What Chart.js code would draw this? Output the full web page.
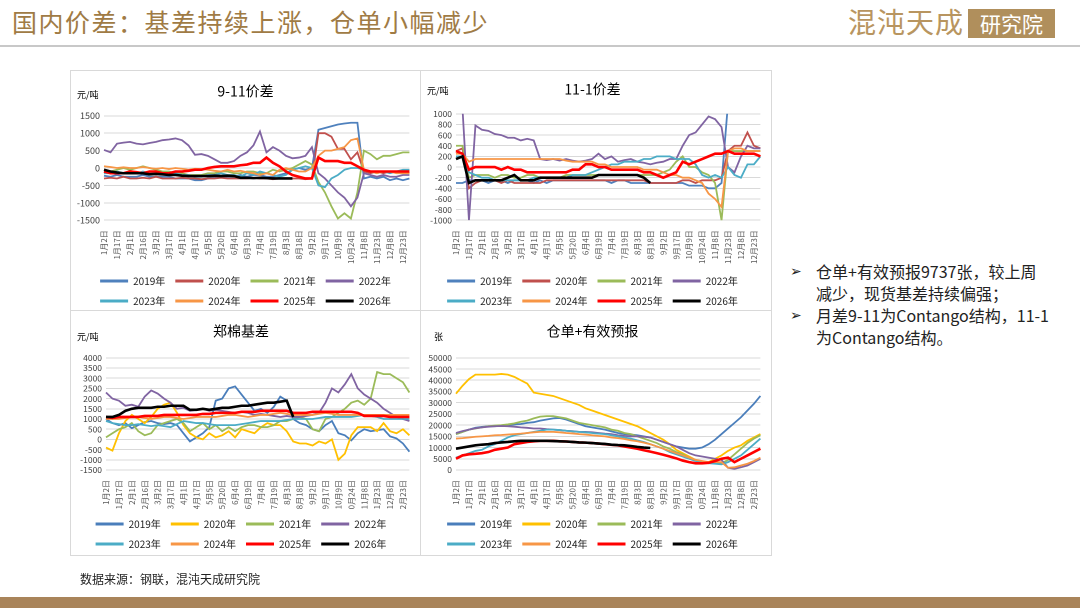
<!DOCTYPE html>
<html><head><meta charset="utf-8">
<script src="https://cdn.jsdelivr.net/npm/chart.js@4.4.1/dist/chart.umd.min.js"></script>
<style>
html,body{margin:0;padding:0;background:#fff;}
body{width:1080px;height:608px;position:relative;overflow:hidden;font-family:"Noto Sans CJK SC","Noto Sans",sans-serif;}
#hdr{position:absolute;left:12px;top:3px;font-size:25px;color:#A07B45;letter-spacing:1.5px;white-space:nowrap;}
#hline{position:absolute;left:0;top:45px;width:1080px;height:2px;background:#C8C8C8;}
#logo{position:absolute;left:848px;top:1px;font-size:28px;color:#B89560;white-space:nowrap;letter-spacing:1px;}
#logobox{position:absolute;left:968px;top:9px;width:87px;height:29px;background:#B08F5C;color:#fff;font-size:21px;text-align:center;line-height:29px;}
.panel{position:absolute;border:1px solid #D9D9D9;box-sizing:border-box;}
.panel canvas{position:absolute;left:0;top:0;}
.unit{position:absolute;font-size:9px;color:#000;white-space:nowrap;}
#notes{position:absolute;left:790px;top:260px;font-size:16px;line-height:22px;color:#222;}
#notes .b{position:relative;padding-left:26px;white-space:nowrap;}
#notes .b span.m{position:absolute;left:0;top:0;font-family:"DejaVu Sans";font-size:14px;}
#src{position:absolute;left:80px;top:570px;font-size:12px;color:#222;}
#foot{position:absolute;left:0;top:597px;width:1080px;height:11px;background:#A9845A;}
</style>
</head>
<body>
<div id="hdr">国内价差：基差持续上涨，仓单小幅减少</div>
<div id="logo">混沌天成</div>
<div id="logobox">研究院</div>
<div id="hline"></div>

<div class="panel" style="left:70px;top:70px;width:351px;height:241px;"><canvas id="c1" width="350" height="240"></canvas></div>
<div class="panel" style="left:420px;top:70px;width:352px;height:241px;"><canvas id="c2" width="351" height="240"></canvas></div>
<div class="panel" style="left:70px;top:310px;width:351px;height:246px;"><canvas id="c3" width="350" height="245"></canvas></div>
<div class="panel" style="left:420px;top:310px;width:352px;height:246px;"><canvas id="c4" width="351" height="245"></canvas></div>

<div class="unit" style="left:77px;top:88px;">元/吨</div>
<div class="unit" style="left:427px;top:84px;">元/吨</div>
<div class="unit" style="left:77px;top:330px;">元/吨</div>
<div class="unit" style="left:434px;top:330px;">张</div>

<div id="notes">
<div class="b"><span class="m">➢</span>仓单+有效预报9737张，较上周<br>减少，现货基差持续偏强；</div>
<div class="b"><span class="m">➢</span>月差9-11为Contango结构，11-1<br>为Contango结构。</div>
</div>
<div id="src">数据来源：钢联，混沌天成研究院</div>
<div id="foot"></div>

<script>
const FONT = '"Noto Sans CJK SC","Noto Sans",sans-serif';
const years = ['2019年','2020年','2021年','2022年','2023年','2024年','2025年','2026年'];
const dates = ['1月2日','1月9日','1月17日','1月24日','2月1日','2月8日','2月16日','2月23日','3月2日','3月9日','3月17日','3月24日',
'4月1日','4月9日','4月17日','4月25日','5月5日','5月12日','5月20日','5月27日','6月4日','6月11日','6月19日','6月26日',
'7月4日','7月11日','7月19日','7月26日','8月3日','8月10日','8月18日','8月25日','9月2日','9月9日','9月17日','9月30日',
'10月9日','10月16日','10月24日','10月31日','11月8日','11月15日','11月23日','11月30日','12月8日','12月15日','12月23日','12月30日'];
const N = null;

// 9-11价差 (元/吨)
const s911_2019 = [-220,-250,-200,-250,-250,-250,-200,-250,-250,-250,-250,-300,-300,-300,-350,-350,-300,-250,-250,-250,-250,-200,-250,-200,-200,-250,-250,-200,-150,-50,0,-50,0,1100,1150,1200,1250,1280,1300,1300,-300,-250,-300,-250,-350,-300,-350,-300];
const s911_2020 = [-300,-280,-300,-250,-300,-300,-280,-300,-250,-300,-300,-300,-280,-300,-300,-320,-300,-300,-280,-300,-300,-300,-300,-280,-300,-300,-320,-300,-300,-300,-300,-320,-300,1000,1000,900,550,550,250,450,-100,-150,-100,-150,-100,-100,-100,-150];
const s911_2021 = [-150,-100,-50,0,-50,0,50,0,-50,-100,-100,-150,-150,-200,-200,-200,-150,-150,-100,-100,-150,-150,-100,-100,-150,-150,-50,-100,-50,0,100,200,100,-400,-700,-1100,-1450,-1300,-1450,-700,500,400,250,350,350,400,450,450];
const s911_2022 = [520,450,700,730,750,700,680,720,750,800,820,850,800,650,380,400,350,250,150,150,200,350,450,650,1050,450,600,500,350,280,300,350,600,-150,-300,-500,-700,-850,-1100,-850,-150,-200,-250,-200,-250,-250,-200,-200];
const s911_2023 = [-150,-150,-100,-150,-150,-150,-100,-150,-150,-150,-150,-150,-200,-200,-250,-250,-200,-200,-150,-200,-200,-250,-150,-200,-100,-150,-200,-250,-200,-50,0,50,0,-500,-550,-300,-200,-50,0,0,-50,-100,-150,-100,-150,-100,-50,-50];
const s911_2024 = [50,30,0,20,0,0,30,0,-20,0,-30,0,-20,-50,-20,-30,-50,-80,-100,-50,-100,-80,-120,-150,-200,-150,-200,-50,0,-50,-100,-100,0,350,500,500,550,600,800,850,-50,-100,-150,-100,-100,-150,-150,-150];
const s911_2025 = [-100,-150,-150,-150,-100,-120,-150,-100,-100,-150,-150,-100,-100,-80,-50,-50,0,30,50,50,50,80,100,150,150,300,150,50,-100,-200,-250,-300,-300,300,200,200,200,150,150,50,-50,-100,-100,-100,-100,-100,-100,-100];
const s911_2026 = [-50,-100,-130,-150,-150,-150,-150,-180,-170,-180,-200,-200,-220,-230,-230,-230,-230,-220,-230,-220,-230,-280,-280,-290,-280,-290,-300,-300,-300,-300,N,N,N,N,N,N,N,N,N,N,N,N,N,N,N,N,N,N];

// 11-1价差 (元/吨)
const s111_2019 = [-300,-300,-250,-250,-250,-300,-250,-250,-300,-250,-250,-250,-300,-250,-300,-250,-250,-250,-250,-250,-250,-250,-250,-250,-300,-250,-250,-300,-300,-300,-300,-300,-300,-300,-300,-300,-350,-350,-350,-400,-400,-300,1200,1200,1200,1200,1200,1200];
const s111_2020 = [300,350,-400,-300,-250,-250,-250,-300,-250,-300,-300,-300,-300,-300,-250,-250,-250,-250,-250,-250,-250,-250,-250,-250,-250,-250,-250,-250,-250,-250,-300,-300,-300,-300,-300,-250,-250,-300,-250,-250,-250,-200,300,400,400,650,400,350];
const s111_2021 = [400,400,-200,-150,-150,-150,-200,-150,-150,-200,-200,-150,-150,-200,-200,-200,-200,-150,-150,-150,-150,-150,-150,-150,-150,-150,-150,-150,-150,-150,-150,-150,-100,-50,100,200,0,0,-100,-150,-300,-1000,300,300,300,300,300,300];
const s111_2022 = [1100,1100,-1000,780,700,680,620,600,550,550,500,530,500,150,130,150,120,150,120,100,120,150,250,150,200,100,130,150,100,80,50,80,100,150,150,400,600,650,800,950,900,750,0,-100,200,400,350,350];
const s111_2023 = [200,200,-100,-150,-200,-200,-250,-250,-250,-250,-250,-250,-200,-200,-200,-200,-200,-200,-150,-150,-150,-100,-50,0,50,50,100,100,100,150,150,200,200,200,150,150,150,50,-150,-200,-150,-200,0,-150,-200,50,50,200];
const s111_2024 = [250,250,100,150,150,150,150,150,150,150,150,150,150,150,150,150,150,120,100,100,100,100,50,50,0,0,0,0,0,-50,-50,-50,-100,-150,-150,-200,-200,-250,-300,-500,-600,-750,300,350,350,300,300,300];
const s111_2025 = [300,250,-50,0,0,0,0,-50,0,-50,-50,-100,-100,-100,-100,-100,-100,-100,-50,-50,50,50,0,0,-50,-50,-50,-50,-50,-100,-100,-150,-200,-150,-100,100,50,100,150,200,250,250,300,250,250,250,250,200];
const s111_2026 = [150,200,-300,-250,-250,-250,-250,-250,-200,-150,-250,-250,-250,-200,-200,-200,-200,-200,-200,-200,-200,-200,-150,-150,-150,-150,-150,-150,-150,-200,-300,N,N,N,N,N,N,N,N,N,N,N,N,N,N,N,N,N];

// 郑棉基差 (元/吨)
const basis_2019 = [1000,800,700,800,550,700,850,900,800,750,800,700,300,-100,100,300,600,1900,2000,2500,2600,2200,1800,1400,1500,1300,1600,2100,1900,1000,800,700,500,400,700,900,300,200,-50,300,500,400,450,500,150,50,-200,-600];
const basis_2020 = [-400,-550,300,900,1200,1000,800,1100,1500,1700,1800,1300,700,300,100,0,300,100,200,400,100,500,400,300,600,800,700,700,400,-100,-200,-200,-300,-100,-200,0,-1000,-700,200,600,600,600,400,800,400,300,500,200];
const basis_2021 = [100,300,500,600,800,400,200,300,700,800,900,1000,800,400,600,800,500,700,400,600,400,600,700,700,600,600,700,900,900,1000,1100,1000,500,400,1000,1100,1300,1500,1800,1900,1700,2000,3300,3200,3200,3000,2800,2300];
const basis_2022 = [2300,2000,1900,1650,1700,1600,2100,2400,2250,2000,1800,1500,1550,1400,1450,1500,1400,1450,1400,1350,1300,1350,1300,1200,1250,1200,1150,1100,1150,1100,1100,1150,1200,1300,1800,2500,2300,2700,3200,2500,2200,2000,1800,1500,1300,1100,1000,900];
const basis_2023 = [900,800,750,700,700,750,700,650,700,650,600,750,900,850,800,800,750,700,700,700,700,750,800,850,900,900,900,900,950,1000,1000,1000,1000,1050,1100,1100,1100,1100,1100,1150,1200,1150,1100,1000,1000,1000,1000,1000];
const basis_2024 = [1000,1000,1000,1050,1100,1100,1050,1000,1050,1100,1100,1050,1000,1050,1100,1100,1100,1100,1150,1200,1200,1150,1100,1150,1200,1200,1250,1300,1250,1200,1200,1200,1200,1250,1300,1250,1200,1200,1200,1200,1200,1200,1200,1200,1200,1200,1200,1200];
const basis_2025 = [1100,1050,1100,1100,1100,1100,1150,1150,1150,1200,1200,1200,1200,1200,1200,1250,1250,1300,1300,1300,1300,1350,1350,1350,1400,1400,1400,1400,1400,1300,1300,1300,1350,1350,1350,1350,1350,1350,1350,1300,1150,1150,1150,1150,1100,1100,1100,1100];
const basis_2026 = [1100,1100,1200,1400,1500,1550,1550,1550,1600,1600,1650,1650,1650,1450,1450,1500,1450,1500,1550,1550,1600,1650,1650,1700,1750,1800,1800,1850,1900,1100,N,N,N,N,N,N,N,N,N,N,N,N,N,N,N,N,N,N];

// 仓单+有效预报 (张)
const wr_2019 = [16000,17000,18000,18800,19200,19500,19500,19800,20000,20300,20500,21000,21300,22000,22500,23000,23200,22500,21500,20500,19500,19000,18500,18000,17200,16500,16000,15800,15500,15000,14500,13500,12500,11500,10500,10000,9500,9500,10000,11500,13500,16000,18500,21000,23500,26500,29500,33000];
const wr_2020 = [34000,37500,40500,42500,42500,42500,42500,42800,42500,41500,40000,38500,34500,34000,33500,33000,32000,31000,30000,29000,27500,26500,25500,24500,23500,22500,21500,20500,19500,18000,16500,15000,13500,11500,9000,7500,6000,4500,3500,3500,5000,6500,8500,10000,11000,13000,14500,16000];
const wr_2021 = [16000,17000,18000,18500,19000,19500,19800,20000,20300,20800,21500,22000,23000,23800,24000,24000,23500,23000,22000,21000,20500,20000,19500,19000,18000,17500,16500,16000,15000,14000,13000,12000,10500,9500,8000,7000,5500,4500,3500,3200,3000,3000,4500,7000,9500,12000,14000,15500];
const wr_2022 = [16500,17300,18000,18600,19000,19300,19500,19600,19500,19300,19000,18800,18500,18500,18200,18000,17800,17500,17300,17000,17000,16800,16500,16200,16000,15500,15200,15000,15000,14800,14500,13500,12500,11500,10500,9000,7500,6500,6000,5500,5000,4500,1000,500,1200,2000,3500,5000];
const wr_2023 = [5500,6500,7500,8500,9000,10500,11500,13000,14500,15500,16000,16500,17000,17500,18000,18000,17800,17500,17200,17000,16800,16500,16200,16000,15500,15000,14500,14000,13200,12500,11500,10500,9500,8000,7000,6000,5000,4000,3500,3000,2800,2500,3500,5000,6500,9000,11500,14000];
const wr_2024 = [14000,14200,14500,14800,15000,15200,15500,15600,15800,16000,16200,16500,16800,17000,17000,17000,16800,16500,16300,16000,15800,15500,15200,15000,14500,14200,13800,13200,12800,12200,11500,10500,9500,8500,7500,6500,5500,4500,4000,3500,3500,3500,1000,1200,2000,2800,4000,5500];
const wr_2025 = [5000,6500,7000,7200,7500,8000,9000,9500,10000,11500,12000,12500,12800,13000,13000,13000,12800,12700,12500,12300,12200,12000,11800,11500,11200,11000,10500,10000,9500,8800,8200,7500,6800,6000,5200,4200,3500,3000,3000,3200,4000,5000,5500,3500,5000,6500,8000,9500];
const wr_2026 = [9500,10000,10500,11000,11300,11500,12000,12300,12500,12800,13000,13000,13000,13000,13000,12900,12800,12700,12500,12300,12200,12000,11800,11600,11300,11100,11000,10700,10300,10000,9800,N,N,N,N,N,N,N,N,N,N,N,N,N,N,N,N,N];

const colorsTop = ['#4F81BD','#C0504D','#9BBB59','#8064A2','#4BACC6','#F79646','#FF0000','#000000'];
const colorsBot = ['#4A7EBB','#FFC000','#9BBB59','#8064A2','#4BACC6','#F79646','#FF0000','#000000'];

function makeChart(id, title, series, colors, yMin, yMax, yStep, o) {
  const datasets = series.map((d, i) => ({
    label: years[i], data: d, borderColor: colors[i], backgroundColor: colors[i],
    borderWidth: i >= 6 ? 2.6 : 1.8, pointRadius: 0, tension: 0, order: 7 - i, spanGaps: false
  }));
  return new Chart(document.getElementById(id), {
    type: 'line',
    data: { labels: dates, datasets },
    options: {
      responsive: false, animation: false, devicePixelRatio: 2,
      layout: { padding: { left: 0, right: o.padR, top: 0, bottom: o.padB } },
      plugins: {
        title: { display: true, text: title, color: '#000', font: { size: 14, family: FONT, weight: 'normal' }, padding: { top: o.tTop, bottom: o.tBot } },
        legend: { position: 'bottom', labels: {
          boxWidth: 28, boxHeight: 3, padding: 10, color: '#222', font: { size: 10, family: FONT },
          sort: (a, b) => a.datasetIndex - b.datasetIndex,
          generateLabels: (chart) => Chart.defaults.plugins.legend.labels.generateLabels(chart).map(l => Object.assign(l, { lineWidth: 0 }))
        } },
        tooltip: { enabled: false }
      },
      scales: {
        x: { grid: { display: false }, border: { display: false },
          ticks: { autoSkip: false, minRotation: 90, maxRotation: 90, padding: 2, color: '#595959', font: { size: 8, family: FONT },
            callback: function (v, i) { return i % 2 === 0 ? this.getLabelForValue(v) : ''; } },
          afterFit: s => { if (o.xH) s.height = o.xH; } },
        y: { min: yMin, max: yMax, border: { display: false }, grid: { color: '#D9D9D9', drawTicks: false },
          ticks: { autoSkip: false, stepSize: yStep, padding: 4, color: '#404040', font: { size: o.yFont, family: FONT }, callback: v => String(v) },
          afterFit: s => { s.width = o.yW; } }
      }
    }
  });
}

makeChart('c1', '9-11价差', [s911_2019, s911_2020, s911_2021, s911_2022, s911_2023, s911_2024, s911_2025, s911_2026], colorsTop, -1500, 1500, 500, { yW: 33, padR: 1, padB: -5, tTop: 12, tBot: 16, yFont: 9 });
makeChart('c2', '11-1价差', [s111_2019, s111_2020, s111_2021, s111_2022, s111_2023, s111_2024, s111_2025, s111_2026], colorsTop, -1000, 1000, 200, { yW: 35, padR: 8, padB: -5, tTop: 10, tBot: 16, yFont: 8.5 });
makeChart('c3', '郑棉基差', [basis_2019, basis_2020, basis_2021, basis_2022, basis_2023, basis_2024, basis_2025, basis_2026], colorsBot, -1500, 4000, 500, { yW: 35, padR: 10, padB: -3, tTop: 12, tBot: 18, yFont: 8.5, xH: 39 });
makeChart('c4', '仓单+有效预报', [wr_2019, wr_2020, wr_2021, wr_2022, wr_2023, wr_2024, wr_2025, wr_2026], colorsBot, 0, 50000, 5000, { yW: 35, padR: 8, padB: -3, tTop: 12, tBot: 18, yFont: 8.5, xH: 39 });
</script>
</body></html>
